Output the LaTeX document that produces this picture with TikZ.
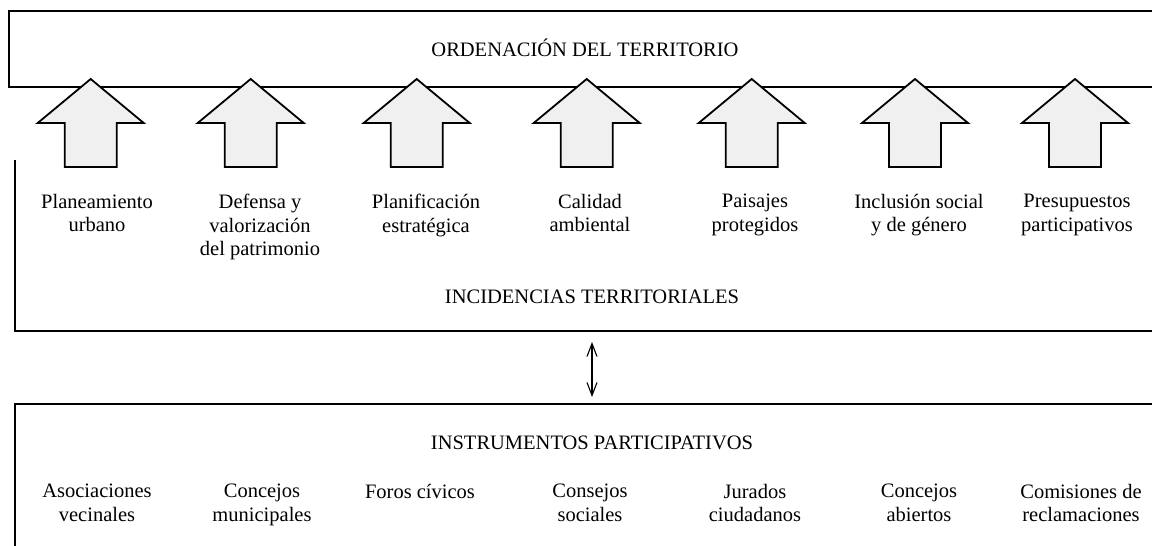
\documentclass[tikz,border=0pt]{standalone}
\usepackage{fontspec}
\setmainfont{Liberation Serif}
\usetikzlibrary{arrows.meta}
\definecolor{arrowgray}{RGB}{240,240,240}
\tikzset{
    boxline/.style={line width=2.6pt},
    bigarrow/.style={draw, line width=1.8pt, fill=arrowgray, line join=miter},
    itemtext/.style={anchor=north, align=center, inner sep=0pt, font=\fontsize{20.5}{23.5}\selectfont},
    titletext/.style={anchor=base, inner sep=0pt, font=\fontsize{20.5}{23.5}\selectfont},
    linkarrow/.style={line width=1.1pt, {Straight Barb[length=13pt,width=10pt]}-{Straight Barb[length=13pt,width=10pt]}}
}
\begin{document}
\begin{tikzpicture}[x=1pt,y=-1pt]
        \useasboundingbox (0,0) rectangle (1152,546);
        % top box
        \draw[boxline] (1153,11) -- (9,11) -- (9,87) -- (1153,87);
        \node[titletext] (ordenacion) at (585,56) {ORDENACIÓN DEL TERRITORIO};
        % arrows
        \draw[bigarrow, shift={(90.7,0)}] (0,79) -- (53,123) -- (26,123) -- (26,167) -- (-26,167) -- (-26,123) -- (-53,123) -- cycle;
        \draw[bigarrow, shift={(250.7,0)}] (0,79) -- (53,123) -- (26,123) -- (26,167) -- (-26,167) -- (-26,123) -- (-53,123) -- cycle;
        \draw[bigarrow, shift={(416.7,0)}] (0,79) -- (53,123) -- (26,123) -- (26,167) -- (-26,167) -- (-26,123) -- (-53,123) -- cycle;
        \draw[bigarrow, shift={(586.7,0)}] (0,79) -- (53,123) -- (26,123) -- (26,167) -- (-26,167) -- (-26,123) -- (-53,123) -- cycle;
        \draw[bigarrow, shift={(751.7,0)}] (0,79) -- (53,123) -- (26,123) -- (26,167) -- (-26,167) -- (-26,123) -- (-53,123) -- cycle;
        \draw[bigarrow, shift={(915,0)}] (0,79) -- (53,123) -- (26,123) -- (26,167) -- (-26,167) -- (-26,123) -- (-53,123) -- cycle;
        \draw[bigarrow, shift={(1075,0)}] (0,79) -- (53,123) -- (26,123) -- (26,167) -- (-26,167) -- (-26,123) -- (-53,123) -- cycle;
        % middle box
        \draw[boxline] (15,160) -- (15,331) -- (1153,331);
        \node[itemtext] (planeamiento) at (97,194) {Planeamiento\\urbano};
        \node[itemtext] (defensa) at (260,194) {Defensa y\\valorización\\del patrimonio};
        \node[itemtext] (planificacion) at (426,194) {Planificación\\estratégica};
        \node[itemtext] (calidad) at (590,194) {Calidad\\ambiental};
        \node[itemtext] (paisajes) at (755,194) {Paisajes\\protegidos};
        \node[itemtext] (inclusion) at (919,194) {Inclusión social\\y de género};
        \node[itemtext] (presupuestos) at (1077,194) {Presupuestos\\participativos};
        \node[titletext] (incidencias) at (592,303) {INCIDENCIAS TERRITORIALES};
        % link
        \coordinate (incbase) at (592,331);
        \coordinate (insttop) at (592,404);
        \draw[linkarrow] ([yshift=-11pt]incbase) -- ([yshift=7pt]insttop);
        % bottom box
        \draw[boxline] (15,550) -- (15,404) -- (1153,404);
        \node[titletext] (instrumentos) at (592,449) {INSTRUMENTOS PARTICIPATIVOS};
        \node[itemtext] (asociaciones) at (97,484) {Asociaciones\\vecinales};
        \node[itemtext] (concejosmun) at (262,484) {Concejos\\municipales};
        \node[itemtext] (foros) at (420,484) {Foros cívicos};
        \node[itemtext] (consejos) at (590,484) {Consejos\\sociales};
        \node[itemtext] (jurados) at (755,484) {Jurados\\ciudadanos};
        \node[itemtext] (concejosab) at (919,484) {Concejos\\abiertos};
        \node[itemtext] (comisiones) at (1081,484) {Comisiones de\\reclamaciones};
    \end{tikzpicture}
\end{document}
